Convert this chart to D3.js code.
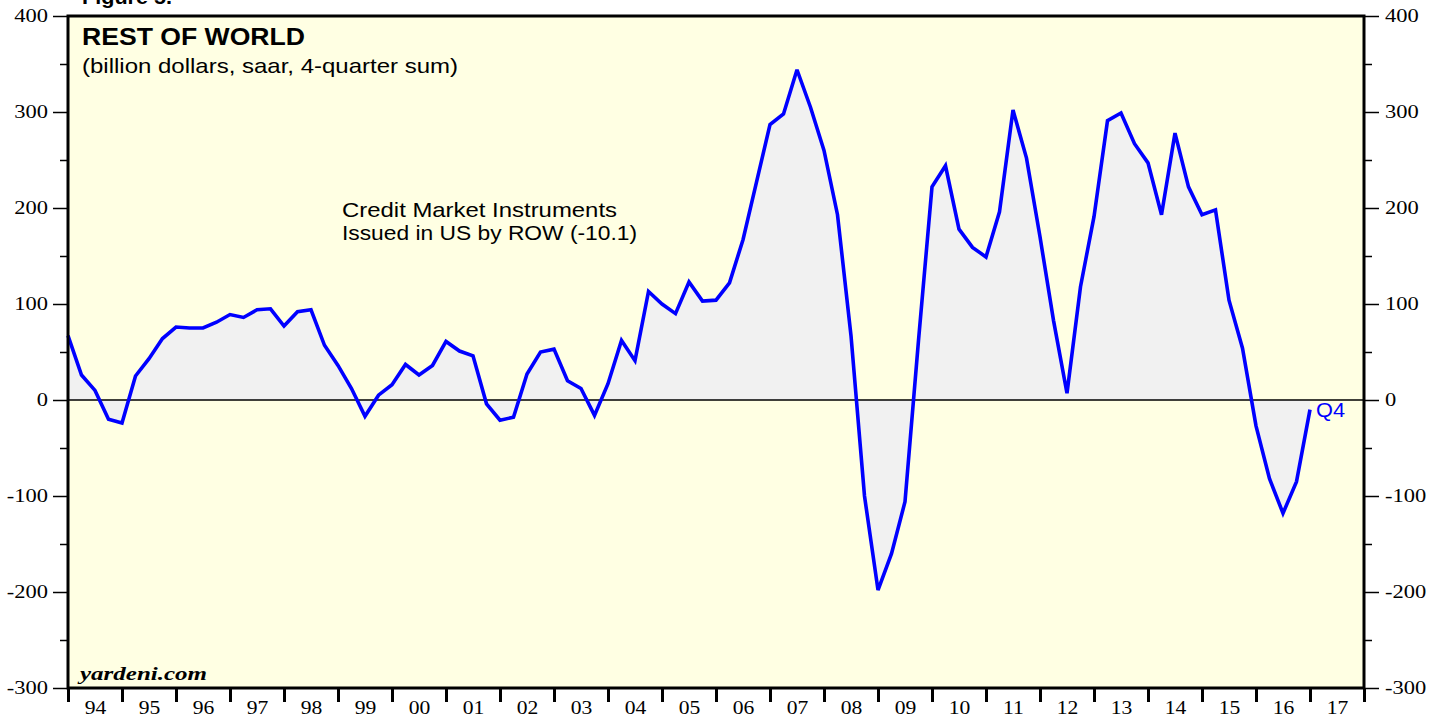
<!DOCTYPE html>
<html>
<head>
<meta charset="utf-8">
<script src="https://cdn.jsdelivr.net/npm/d3@7"></script>
<style>
  html, body { margin: 0; padding: 0; background: #ffffff; }
  svg { display: block; }
</style>
</head>
<body>
<svg id="chart" width="1441" height="717"></svg>
<script>
// ---- data (quarterly, 4-quarter sum, billion dollars; first obs 1993Q4, last 2016Q4) ----
const firstQuarterEnd = 1994.0;   // end of 1993Q4
const rowCredit = [
  67, 26, 10, -20, -24, 25, 43, 64, 76, 75,
  75, 81, 89, 86, 94, 95, 77, 92, 94, 57,
  36, 12, -17, 5, 16, 37, 26, 36, 61, 51,
  46, -4, -21, -18, 27, 50, 53, 20, 12, -16,
  17, 62, 41, 113, 100, 90, 123, 103, 104, 122,
  167, 227, 287, 298, 344, 305, 260, 193, 67, -100,
  -198, -160, -106, 62, 222, 244, 178, 159, 149, 196,
  302, 252, 170, 83, 7, 118, 191, 291, 299, 267,
  247, 193, 278, 222, 193, 198, 104, 54, -27, -82,
  -118, -85, -10.1
];
const yearLabels = ["94","95","96","97","98","99","00","01","02","03","04","05",
                    "06","07","08","09","10","11","12","13","14","15","16","17"];
const yearStarts = d3.range(1994, 2018);
const yMajorTicks = [-300, -200, -100, 0, 100, 200, 300, 400];
const yMinorTicks = [-250, -150, -50, 50, 150, 250, 350];
const titleText = "REST OF WORLD";
const subtitleText = "(billion dollars, saar, 4-quarter sum)";
const seriesLabel = ["Credit Market Instruments", "Issued in US by ROW (-10.1)"];
const lastLabel = "Q4";

// ---- layout ----
const L = 68, R = 1364, T = 16, B = 688;
const svg = d3.select("#chart");

const x = d3.scaleLinear().domain([1994, 2018]).range([L, R]);
const y = d3.scaleLinear().domain([-300, 400]).range([B, T]);

const pts = rowCredit.map((v, i) => ({ t: firstQuarterEnd + i / 4, v }));

// horizontally widen glyphs (reference typography is wider)
function widen(sel, factor) {
  sel.each(function () {
    const w = this.getComputedTextLength();
    if (w > 0) d3.select(this).attr("textLength", w * factor).attr("lengthAdjust", "spacingAndGlyphs");
  });
}

// partial figure caption cut off at top (as in the reference)
svg.append("text").attr("x", 82).attr("y", 4)
  .attr("font-family", "Liberation Sans, Arial, sans-serif")
  .attr("font-weight", "bold").attr("font-size", 21).attr("fill", "#000")
  .attr("textLength", 90).attr("lengthAdjust", "spacingAndGlyphs")
  .text("Figure 5.");

// plot background
svg.append("rect").attr("x", L).attr("y", T).attr("width", R - L).attr("height", B - T)
  .attr("fill", "#FFFFE3");

// fill between line and zero
svg.append("path").datum(pts)
  .attr("d", d3.area().x(d => x(d.t)).y0(y(0)).y1(d => y(d.v)))
  .attr("fill", "#F1F1F1");

// zero line
svg.append("line").attr("x1", L).attr("x2", R).attr("y1", y(0)).attr("y2", y(0))
  .attr("stroke", "#000").attr("stroke-width", 1.5);

// series line
svg.append("path").datum(pts)
  .attr("d", d3.line().x(d => x(d.t)).y(d => y(d.v)))
  .attr("fill", "none").attr("stroke", "#0000FF").attr("stroke-width", 3.6)
  .attr("stroke-linejoin", "miter").attr("stroke-miterlimit", 3);

// frame
svg.append("rect").attr("x", L).attr("y", T).attr("width", R - L).attr("height", B - T)
  .attr("fill", "none").attr("stroke", "#000").attr("stroke-width", 3);

// axes
const serif = "Liberation Serif, Times New Roman, serif";
const numFmt = d => String(d);
function styleAxis(g) {
  g.select(".domain").remove();
  g.selectAll("line").attr("stroke", "#000").attr("stroke-width", 1.5);
  g.selectAll("text").attr("font-family", serif).attr("font-size", 18).attr("fill", "#000");
}
const leftMajor = svg.append("g").attr("transform", `translate(${L},0)`)
  .call(d3.axisLeft(y).tickValues(yMajorTicks).tickSize(15).tickPadding(5).tickFormat(numFmt));
styleAxis(leftMajor);
widen(leftMajor.selectAll("text"), 1.25);
const leftMinor = svg.append("g").attr("transform", `translate(${L},0)`)
  .call(d3.axisLeft(y).tickValues(yMinorTicks).tickSize(8).tickFormat(""));
styleAxis(leftMinor);
const rightMajor = svg.append("g").attr("transform", `translate(${R},0)`)
  .call(d3.axisRight(y).tickValues(yMajorTicks).tickSize(15).tickPadding(6).tickFormat(numFmt));
styleAxis(rightMajor);
widen(rightMajor.selectAll("text"), 1.25);
const rightMinor = svg.append("g").attr("transform", `translate(${R},0)`)
  .call(d3.axisRight(y).tickValues(yMinorTicks).tickSize(8).tickFormat(""));
styleAxis(rightMinor);

// bottom: ticks at year boundaries, labels centred in each year
const bottomTicks = svg.append("g").attr("transform", `translate(0,${B})`)
  .call(d3.axisBottom(x).tickValues(yearStarts.concat([2018])).tickSize(14).tickFormat(""));
styleAxis(bottomTicks);
bottomTicks.selectAll("line").attr("stroke-width", 3);
const bottomLabels = svg.append("g").attr("transform", `translate(0,${B})`)
  .call(d3.axisBottom(x).tickValues(yearStarts.map(d => d + 0.5)).tickSize(0).tickPadding(13)
    .tickFormat((d, i) => yearLabels[i]));
styleAxis(bottomLabels);
widen(bottomLabels.selectAll("text"), 1.2);

// titles
const sans = "Liberation Sans, Arial, Helvetica, sans-serif";
svg.append("text").attr("x", 82).attr("y", 45)
  .attr("font-family", sans).attr("font-weight", "bold").attr("font-size", 24.5)
  .attr("textLength", 223).attr("lengthAdjust", "spacingAndGlyphs")
  .attr("fill", "#000").text(titleText);
svg.append("text").attr("x", 82).attr("y", 73)
  .attr("font-family", sans).attr("font-size", 21)
  .attr("textLength", 376).attr("lengthAdjust", "spacingAndGlyphs")
  .attr("fill", "#000").text(subtitleText);

svg.append("text").attr("x", 342).attr("y", 217)
  .attr("font-family", sans).attr("font-size", 21)
  .attr("textLength", 275).attr("lengthAdjust", "spacingAndGlyphs")
  .attr("fill", "#000").text(seriesLabel[0]);
svg.append("text").attr("x", 342).attr("y", 240)
  .attr("font-family", sans).attr("font-size", 21)
  .attr("textLength", 295).attr("lengthAdjust", "spacingAndGlyphs")
  .attr("fill", "#000").text(seriesLabel[1]);

const last = pts[pts.length - 1];
svg.append("text").attr("x", x(last.t) + 6).attr("y", y(last.v) + 7)
  .attr("font-family", sans).attr("font-size", 20)
  .attr("textLength", 29).attr("lengthAdjust", "spacingAndGlyphs")
  .attr("fill", "#0000FF").text(lastLabel);

svg.append("text").attr("x", 80).attr("y", 680)
  .attr("font-family", serif).attr("font-style", "italic").attr("font-weight", "bold")
  .attr("font-size", 19).attr("textLength", 127).attr("lengthAdjust", "spacingAndGlyphs")
  .attr("fill", "#000").text("yardeni.com");
</script>
</body>
</html>
